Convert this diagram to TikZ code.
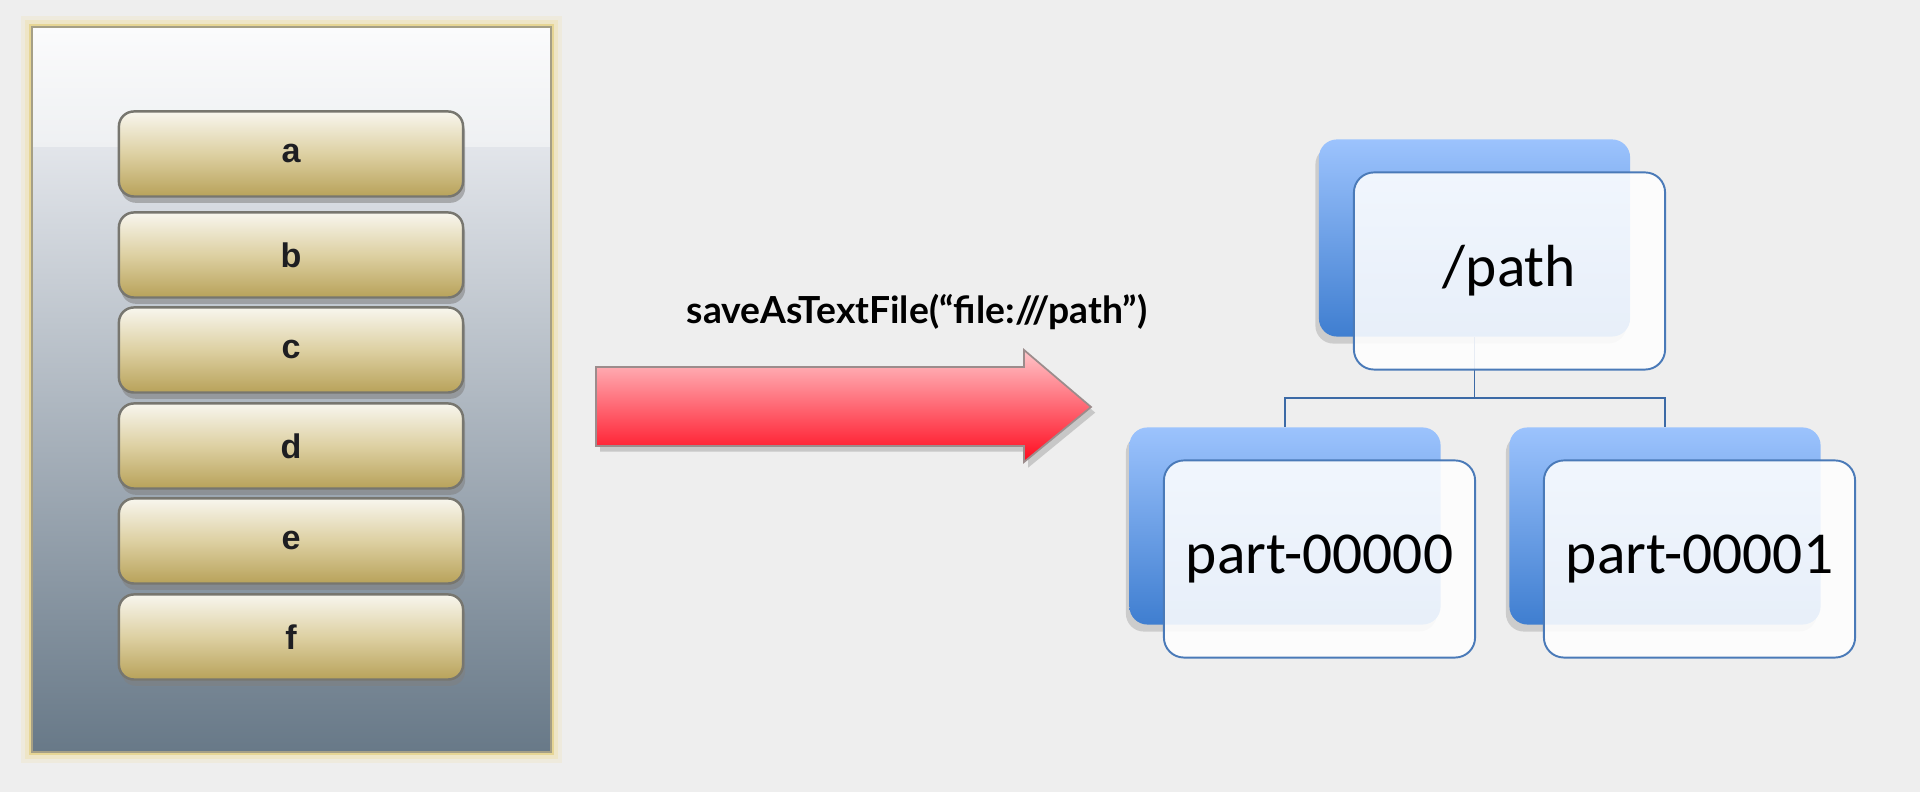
\documentclass[tikz,border=0pt]{standalone}
\usepackage{fontspec}
\setmainfont{Liberation Sans}
\newfontfamily\latofont{Lato}
\newfontfamily\calfont{Carlito}
\usetikzlibrary{shadows}
\definecolor{bg}{HTML}{EEEEEE}
\definecolor{glow}{HTML}{F0DC92}
\definecolor{glowin}{HTML}{E4CF80}
\definecolor{paneltop}{HTML}{FBFBFC}
\definecolor{panelmid}{HTML}{EEF0F2}
\definecolor{panelband}{HTML}{E2E5EA}
\definecolor{panelbot}{HTML}{687988}
\definecolor{paneledge}{HTML}{A59F86}
\definecolor{btntop}{HTML}{F8F6EE}
\definecolor{btnmid}{HTML}{DDD0A2}
\definecolor{btnbot}{HTML}{B8A25A}
\definecolor{btnborder}{HTML}{77766F}
\definecolor{btntext}{HTML}{1E1E22}
\definecolor{arrtop}{HTML}{FFC6CA}
\definecolor{arrbot}{HTML}{FF0A1E}
\definecolor{arredge}{HTML}{9C8C8C}
\definecolor{bluetop}{HTML}{9CC3FD}
\definecolor{bluebot}{HTML}{3F7ED0}
\definecolor{boxedge}{HTML}{4A7AB8}
\definecolor{conn}{HTML}{3C6AA6}
\begin{document}
\begin{tikzpicture}[x=0.01cm,y=-0.01cm,
  btn/.style={draw=btnborder, line width=0.7pt, rounded corners=0.15cm,
    minimum width=3.44cm, minimum height=0.85cm, inner sep=0pt,
    top color=btntop, bottom color=btnbot, middle color=btnmid,
    font=\bfseries\fontsize{9.7}{11}\selectfont, text=btntext,
    drop shadow={shadow xshift=0.6pt, shadow yshift=-1.8pt, opacity=0.55}},
  backbox/.style={rounded corners=0.18cm, minimum width=3.11cm, minimum height=1.97cm,
    inner sep=0pt, top color=bluetop, bottom color=bluebot,
    drop shadow={shadow xshift=-1pt, shadow yshift=-2pt, opacity=0.3}},
  frontbox/.style={draw=boxedge, line width=0.55pt, rounded corners=0.2cm,
    minimum width=3.11cm, minimum height=1.97cm, inner sep=0pt,
    fill=white, fill opacity=0.88, text opacity=1,
    font=\calfont\fontsize{16.9}{18}\selectfont},
  connector/.style={draw=conn, line width=0.5pt},
  arrowshape/.style={draw=arredge, line width=0.5pt, top color=arrtop, bottom color=arrbot,
    drop shadow={shadow xshift=1.2pt, shadow yshift=-1.6pt, opacity=0.35}},
  titlestyle/.style={font=\latofont\bfseries\fontsize{10.6}{12}\selectfont, inner sep=0pt}
]
\fill[bg] (0,0) rectangle (1920,792);
\useasboundingbox (0,0) rectangle (1920,792);

% ---------- left panel ----------
\node (panel) [minimum width=5.17cm, minimum height=7.23cm, inner sep=0pt] at (291.5,389.5) {};
\draw[glow, line width=0.13cm, opacity=0.18] (panel.north west) ++(-5,-5) rectangle ([shift={(5,5)}]panel.south east);
\draw[glow, line width=0.08cm, opacity=0.3] (panel.north west) ++(-3.5,-3.5) rectangle ([shift={(3.5,3.5)}]panel.south east);
\draw[glowin, line width=0.035cm, opacity=0.7] (panel.north west) ++(-1.5,-1.5) rectangle ([shift={(1.5,1.5)}]panel.south east);
\path[top color=panelband, bottom color=panelbot] (33,147) rectangle (550,751);
\path[top color=paneltop, bottom color=panelmid] (33,28) rectangle (550,147);
\draw[paneledge, line width=0.4pt] (panel.north west) rectangle (panel.south east);

\node (btna) [btn] at (291,154) {a};
\node (btnb) [btn] at (291,255) {b};
\node (btnc) [btn] at (291,350) {c};
\node (btnd) [btn] at (291,446) {d};
\node (btne) [btn] at (291,541) {e};
\node (btnf) [btn] at (291,637) {f};

% ---------- arrow and title ----------
\node (title) [titlestyle, anchor=base] at (917,324) {saveAsTextFile(“file:///path”)};
\coordinate (arrtail) at (596,407);
\coordinate (arrtip) at (1091,407);
\path[arrowshape] (arrtail) ++(0,-40) -- (1024,367) -- (1024,350) -- (arrtip)
  -- (1024,462) -- (1024,446) -- (596,446) -- cycle;

% ---------- tree ----------
\node (pathback) [backbox] at (1474.5,238) {};
\node (p0back) [backbox] at (1285,526) {};
\node (p1back) [backbox] at (1665,526) {};

\draw[connector] (pathback.south) -- ++(0,61) coordinate (split) -| (p0back.north);
\draw[connector] (split) -| (p1back.north);

\node (pathfront) [frontbox] at (1509.5,271) {/path};
\node (p0front) [frontbox] at (1319.5,559) {part-00000};
\node (p1front) [frontbox] at (1699.5,559) {part-00001};
\end{tikzpicture}
\end{document}
